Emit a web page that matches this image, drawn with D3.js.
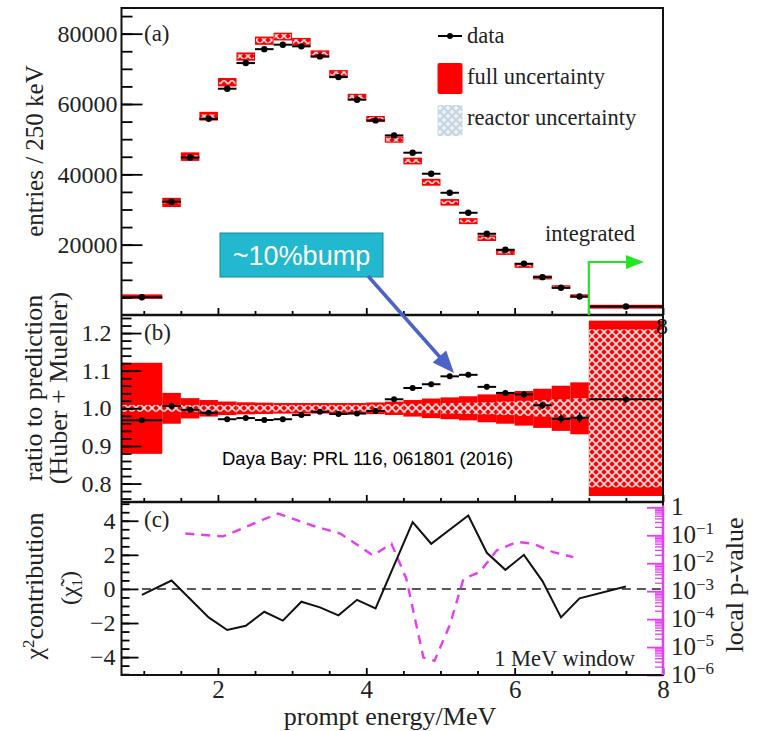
<!DOCTYPE html>
<html><head><meta charset="utf-8">
<script src="https://cdn.jsdelivr.net/npm/d3@7"></script>
<style>body{margin:0;background:#fff}</style>
</head><body>
<svg id="chart" width="759" height="731"></svg>
<script>
// ---------------- data ----------------
const binEdges = [0.7,1.25,1.5,1.75,2.0,2.25,2.5,2.75,3.0,3.25,3.5,3.75,4.0,4.25,4.5,4.75,5.0,5.25,5.5,5.75,6.0,6.25,6.5,6.75,7.0,8.0];
const dataCounts = [5060,32200,44800,55800,64350,71640,75600,76870,76400,73540,67650,61220,55340,51070,46150,40170,34760,29070,23100,18550,14570,10760,7740,5260,2420];
const predCounts = [5230,32010,45030,56530,66200,73480,78000,79170,77700,74210,68680,62030,55730,49870,43790,37750,32040,26690,21850,17820,14050,10670,7960,5390,2360];
const ratioValues = [0.968,1.006,0.996,0.988,0.971,0.974,0.969,0.971,0.982,0.991,0.985,0.986,0.993,1.024,1.054,1.064,1.085,1.089,1.057,1.041,1.037,1.008,0.972,0.975,1.024];
const ratioStat = [0.005,0.004,0.004,0.004,0.004,0.004,0.004,0.004,0.004,0.004,0.004,0.004,0.004,0.005,0.005,0.005,0.006,0.006,0.007,0.008,0.009,0.010,0.012,0.014,0.010];
const fullUnc = [0.121,0.041,0.027,0.022,0.018,0.016,0.015,0.014,0.014,0.014,0.014,0.014,0.0155,0.0177,0.022,0.026,0.029,0.032,0.037,0.041,0.046,0.052,0.060,0.069,0.233];
const reactorUnc = [0.009,0.009,0.009,0.009,0.009,0.009,0.009,0.009,0.009,0.009,0.009,0.009,0.010,0.011,0.012,0.013,0.014,0.015,0.016,0.018,0.020,0.022,0.024,0.027,0.210];
const chiX = [0.975,1.375,1.875,2.125,2.375,2.625,2.875,3.125,3.375,3.625,3.875,4.125,4.625,4.875,5.375,5.625,5.875,6.125,6.375,6.625,6.875,7.5];
const chiY = [-0.35,0.49,-1.67,-2.41,-2.16,-1.34,-1.86,-0.75,-1.08,-1.55,-0.64,-1.14,3.92,2.65,4.31,2.12,1.12,2.0,0.46,-1.67,-0.55,0.14];
const pX = [1.56,2.07,2.81,3.3,3.65,4.09,4.34,4.54,4.77,4.92,5.13,5.31,5.53,5.76,6.03,6.25,6.52,6.79];
const pVal = [0.115,0.091,0.60,0.21,0.115,0.019,0.050,0.00275,4.2e-6,3.2e-6,6.6e-5,0.00275,0.0048,0.029,0.058,0.050,0.025,0.0166];
const yTickA = [20000,40000,60000,80000];
const yTickB = [0.8,0.9,1.0,1.1,1.2];
const yTickC = [-4,-2,0,2,4];
const xTickLabels = [2,4,6,8];
const pTickExp = [0,-1,-2,-3,-4,-5,-6];

// ---------------- setup ----------------
const serif = "'Liberation Serif','Times New Roman',serif";
const sans = "'Liberation Sans',Arial,sans-serif";
const svg = d3.select('#chart');
svg.append('rect').attr('width',759).attr('height',731).attr('fill','#fff');

const defs = svg.append('defs');
const hp = defs.append('pattern').attr('id','hatch').attr('width',8).attr('height',8).attr('patternUnits','userSpaceOnUse');
hp.append('path').attr('d','M0,0L8,8M0,8L8,0').attr('stroke','#dcdcdc').attr('stroke-width',1.7);
const hl = defs.append('pattern').attr('id','hatchLeg').attr('width',8).attr('height',8).attr('patternUnits','userSpaceOnUse');
hl.append('rect').attr('width',8).attr('height',8).attr('fill','#eef3f6');
hl.append('path').attr('d','M0,0L8,8M0,8L8,0').attr('stroke','#c6d6e2').attr('stroke-width',2.2);

const x = d3.scaleLinear().domain([0.7,8]).range([121.5,663]);
const yA = d3.scaleLinear().domain([0,87300]).range([315,8]);
const yB = d3.scaleLinear().domain([0.751,1.248]).range([502,315]);
const yC = d3.scaleLinear().domain([-5.05,5.1]).range([675,502]);
const yP = d3.scaleLog().domain([1e-6,Math.pow(10,0.19)]).range([675,502]);

const bins = dataCounts.map((v,i)=>({lo:binEdges[i],hi:binEdges[i+1],c:(binEdges[i]+binEdges[i+1])/2,
  data:v,pred:predCounts[i],ratio:ratioValues[i],stat:ratioStat[i],full:fullUnc[i],reac:reactorUnc[i]}));

// ---------------- panel (a) ----------------
const gA = svg.append('g');
gA.selectAll('rect.full').data(bins).join('rect')
  .attr('x',d=>x(d.lo)).attr('width',d=>x(d.hi)-x(d.lo))
  .attr('y',d=>{const h=Math.max(yA(d.pred*(1-d.full))-yA(d.pred*(1+d.full)),3.5);return yA(d.pred)-h/2;})
  .attr('height',d=>Math.max(yA(d.pred*(1-d.full))-yA(d.pred*(1+d.full)),3.5))
  .attr('fill','#ff0000');
gA.selectAll('rect.reac').data(bins.slice(0,24)).join('rect')
  .attr('x',d=>x(d.lo)+1).attr('width',d=>x(d.hi)-x(d.lo)-2)
  .attr('y',d=>yA(d.pred*(1+d.reac))).attr('height',d=>yA(d.pred*(1-d.reac))-yA(d.pred*(1+d.reac)))
  .attr('fill','url(#hatch)');
gA.selectAll('line.d').data(bins).join('line')
  .attr('x1',d=>x(d.lo)).attr('x2',d=>x(d.hi)).attr('y1',d=>yA(d.data)).attr('y2',d=>yA(d.data))
  .attr('stroke','#000').attr('stroke-width',2);
gA.selectAll('circle').data(bins).join('circle')
  .attr('cx',d=>x(d.c)).attr('cy',d=>yA(d.data)).attr('r',3.2).attr('fill','#000');

// ---------------- panel (b) ----------------
const gB = svg.append('g');
gB.selectAll('rect.full').data(bins).join('rect')
  .attr('x',d=>x(d.lo)).attr('width',d=>x(d.hi)-x(d.lo))
  .attr('y',d=>yB(1+d.full)).attr('height',d=>yB(1-d.full)-yB(1+d.full)).attr('fill','#ff0000');
gB.selectAll('rect.reac').data(bins).join('rect')
  .attr('x',d=>x(d.lo)).attr('width',d=>x(d.hi)-x(d.lo))
  .attr('y',d=>yB(1+d.reac)).attr('height',d=>yB(1-d.reac)-yB(1+d.reac)).attr('fill','url(#hatch)');
gB.selectAll('line.d').data(bins).join('line')
  .attr('x1',d=>x(d.lo)).attr('x2',d=>x(d.hi)).attr('y1',d=>yB(d.ratio)).attr('y2',d=>yB(d.ratio))
  .attr('stroke','#000').attr('stroke-width',2);
gB.selectAll('line.e').data(bins).join('line')
  .attr('x1',d=>x(d.c)).attr('x2',d=>x(d.c)).attr('y1',d=>yB(d.ratio+d.stat)).attr('y2',d=>yB(d.ratio-d.stat))
  .attr('stroke','#000').attr('stroke-width',1.5);
gB.selectAll('circle').data(bins).join('circle')
  .attr('cx',d=>x(d.c)).attr('cy',d=>yB(d.ratio)).attr('r',3).attr('fill','#000');

// ---------------- panel (c) ----------------
const gC = svg.append('g');
gC.append('line').attr('x1',x(0.975)).attr('x2',x(7.97)).attr('y1',yC(0)).attr('y2',yC(0))
  .attr('stroke','#222').attr('stroke-width',1.6).attr('stroke-dasharray','9,6');
gC.append('path').datum(pX.map((v,i)=>[v,pVal[i]]))
  .attr('d',d3.line().x(d=>x(d[0])).y(d=>yP(d[1])))
  .attr('fill','none').attr('stroke','#e63df0').attr('stroke-width',2.4).attr('stroke-dasharray','9,7');
gC.append('path').datum(chiX.map((v,i)=>[v,chiY[i]]))
  .attr('d',d3.line().x(d=>x(d[0])).y(d=>yC(d[1])))
  .attr('fill','none').attr('stroke','#111').attr('stroke-width',2);

// ---------------- axes ----------------
function styleAxis(g){ g.select('.domain').remove(); g.selectAll('line').attr('stroke','#000').attr('stroke-width',1.8); }
function leftAxis(scale, majors, minors, majLen, minLen, fmt, pad, fs){
  const g1 = svg.append('g').attr('transform','translate(121.5,0)')
    .call(d3.axisLeft(scale).tickValues(minors).tickSize(-minLen).tickFormat(''));
  styleAxis(g1);
  const g2 = svg.append('g').attr('transform','translate(121.5,0)')
    .call(d3.axisLeft(scale).tickValues(majors).tickSize(-majLen).tickFormat(fmt).tickPadding(pad));
  styleAxis(g2);
  g2.selectAll('text').attr('font-family',serif).attr('font-size',fs).attr('fill','#222');
}
leftAxis(yA, yTickA, d3.range(5000,87000,5000), 21, 11, d3.format('d'), 4, 24);
leftAxis(yB, yTickB, d3.range(0.76,1.245,0.02), 20, 10, d3.format('.1f'), 10, 24);
leftAxis(yC, yTickC, d3.range(-5,5.01,0.5), 17, 8, d=>d<0?'\u2212'+Math.abs(d):String(d), 6, 24);

[315,502,675].forEach((yy,k)=>{
  const gm = svg.append('g').attr('transform',`translate(0,${yy})`)
    .call(d3.axisBottom(x).tickValues(d3.range(1,8.01,0.5).filter(v=>v%2!==0)).tickSize(-4).tickFormat(''));
  styleAxis(gm);
  const gM = svg.append('g').attr('transform',`translate(0,${yy})`)
    .call(d3.axisBottom(x).tickValues(xTickLabels).tickSize(-7).tickFormat(k===2?d3.format('d'):'').tickPadding(5));
  styleAxis(gM);
  gM.selectAll('text').attr('font-family',serif).attr('font-size',25).attr('fill','#222');
});

// right log axis (magenta)
const logMinors = [];
for(let e=-6;e<0;e++) for(let m=2;m<=9;m++) logMinors.push(m*Math.pow(10,e));
const gr1 = svg.append('g').attr('transform','translate(663,0)')
  .call(d3.axisRight(yP).tickValues(logMinors).tickSize(-8).tickFormat(''));
gr1.select('.domain').remove(); gr1.selectAll('line').attr('stroke','#e040f0').attr('stroke-width',1.3);
const gr2 = svg.append('g').attr('transform','translate(663,0)')
  .call(d3.axisRight(yP).tickValues(pTickExp.map(e=>Math.pow(10,e))).tickSize(-16).tickFormat(''));
gr2.select('.domain').remove(); gr2.selectAll('line').attr('stroke','#e040f0').attr('stroke-width',1.8);
pTickExp.forEach(e=>{
  const yy = yP(Math.pow(10,e));
  if(e===0){
    svg.append('text').attr('x',671).attr('y',yy+8).attr('font-family',serif).attr('font-size',25).attr('fill','#222').text('1');
  } else {
    const t = svg.append('text').attr('x',671).attr('y',yy+8).attr('font-family',serif).attr('font-size',25).attr('fill','#222');
    t.append('tspan').text('10');
    t.append('tspan').attr('dy',-9).attr('font-size',17).text('\u2212'+Math.abs(e));
  }
});

// frames
svg.append('rect').attr('x',121.5).attr('y',8).attr('width',663-121.5).attr('height',675-8)
  .attr('fill','none').attr('stroke','#111').attr('stroke-width',2);
[315,502].forEach(yy=>svg.append('line').attr('x1',121.5).attr('x2',663).attr('y1',yy).attr('y2',yy).attr('stroke','#111').attr('stroke-width',2.5));
svg.append('line').attr('x1',663).attr('x2',663).attr('y1',yP(1)-2).attr('y2',675).attr('stroke','#e040f0').attr('stroke-width',2.5);
svg.append('text').attr('x',656).attr('y',334).attr('font-family',serif).attr('font-size',24).attr('fill','#111').text('8');

// ---------------- texts ----------------
function txt(xx,yy,s,fs,fam,anchor,rot){
  const t = svg.append('text').attr('font-family',fam||serif).attr('font-size',fs).attr('fill','#222')
    .attr('text-anchor',anchor||'start');
  if(rot){ t.attr('transform',`translate(${xx},${yy}) rotate(-90)`); } else { t.attr('x',xx).attr('y',yy); }
  return t.text(s);
}
txt(144,41,'(a)',23);
txt(144,340,'(b)',23);
txt(144,527,'(c)',23);
txt(43,151,'entries / 250 keV',25,serif,'middle',true);
txt(42,388,'ratio to prediction',26,serif,'middle',true);
txt(67,388,'(Huber + Mueller)',26,serif,'middle',true);
const tc = txt(43,586,'',26,serif,'middle',true);
tc.append('tspan').text('\u03c7');
tc.append('tspan').attr('dy',-9).attr('font-size',17).text('2');
tc.append('tspan').attr('dy',9).text('contribution');
const tx1 = txt(77,588,'',24,serif,'middle',true);
tx1.append('tspan').text('(\u03c7\u0303');
tx1.append('tspan').attr('dy',5).attr('font-size',15).text('1');
tx1.append('tspan').attr('dy',-5).text(')');
txt(743,585,'local p-value',26,serif,'middle',true);
txt(390,725,'prompt energy/MeV',26,serif,'middle');
txt(635,666,'1 MeV window',22.5,serif,'end');
txt(222,465,'Daya Bay: PRL 116, 061801 (2016)',18.5,sans,'start').attr('fill','#000');

// legend
const lg = svg.append('g');
lg.append('line').attr('x1',438).attr('x2',462).attr('y1',36).attr('y2',36).attr('stroke','#000').attr('stroke-width',2);
lg.append('circle').attr('cx',450).attr('cy',36).attr('r',3).attr('fill','#000');
lg.append('rect').attr('x',437.5).attr('y',63).attr('width',25).attr('height',31).attr('rx',2).attr('fill','#ff0000');
lg.append('rect').attr('x',437.5).attr('y',105).attr('width',25).attr('height',31).attr('rx',2).attr('fill','url(#hatchLeg)');
txt(467,43,'data',22.5);
txt(467,84,'full uncertainty',22.5);
txt(467,125,'reactor uncertainty',22.5);
txt(545,241,'integrated',22.5);

// integrated arrow (green)
svg.append('path').attr('d',`M${x(7.0)},${yA(0)}V262H628`).attr('fill','none').attr('stroke','#22e622').attr('stroke-width',2.2);
svg.append('path').attr('d','M626,255L644,262L626,269Z').attr('fill','#22e622');

// bump annotation
svg.append('rect').attr('x',220).attr('y',233).attr('width',163).attr('height',44)
  .attr('fill','#21b8d0').attr('stroke','#168a9e').attr('stroke-width',1);
svg.append('text').attr('x',301.5).attr('y',265).attr('text-anchor','middle').attr('font-family',sans)
  .attr('font-size',27).attr('fill','#fff').text('~10%bump');
const ax0=368, ay0=276, ax1=454, ay1=373;
const L=Math.hypot(ax1-ax0,ay1-ay0), ux=(ax1-ax0)/L, uy=(ay1-ay0)/L;
svg.append('line').attr('x1',ax0).attr('y1',ay0).attr('x2',ax1-ux*18).attr('y2',ay1-uy*18)
  .attr('stroke','#4b63c8').attr('stroke-width',3.5);
const hb=[ax1-ux*22, ay1-uy*22];
svg.append('path').attr('d',`M${ax1},${ay1}L${hb[0]-uy*9},${hb[1]+ux*9}L${hb[0]+uy*9},${hb[1]-ux*9}Z`).attr('fill','#4b63c8');
</script>
</body></html>
